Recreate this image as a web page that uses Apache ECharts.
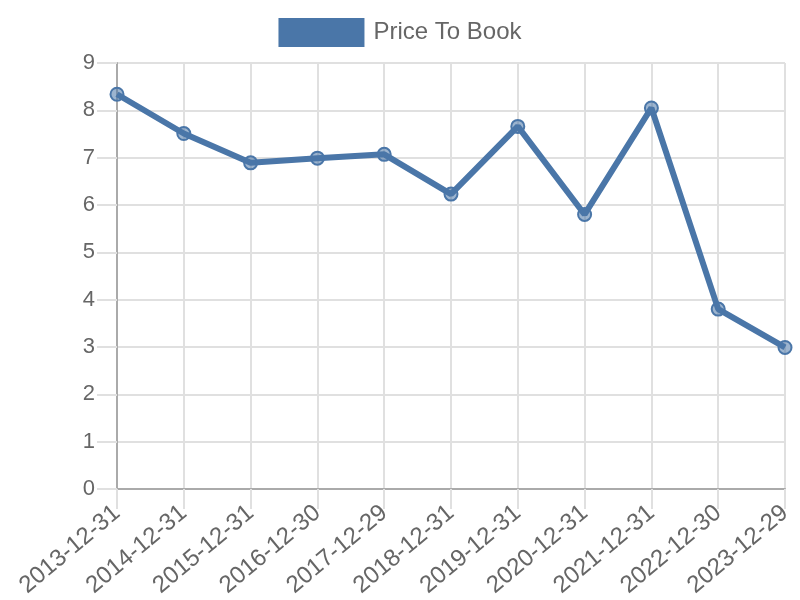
<!DOCTYPE html>
<html><head><meta charset="utf-8">
<script src="https://cdn.jsdelivr.net/npm/echarts@6/dist/echarts.min.js"></script>
<style>html,body{margin:0;padding:0;background:#fff}#c{width:800px;height:600px}</style>
</head><body><div id="c"></div>
<script>
const categories = ["2013-12-31","2014-12-31","2015-12-31","2016-12-30","2017-12-29","2018-12-31","2019-12-31","2020-12-31","2021-12-31","2022-12-30","2023-12-29"];
const priceToBook = [8.34, 7.51, 6.89, 6.99, 7.07, 6.23, 7.66, 5.80, 8.05, 3.80, 2.99];
const seriesName = "Price To Book";
const lineColor = "#4a76a8";
const chart = echarts.init(document.getElementById('c'));
chart.setOption({
  animation: false,
  textStyle: {fontFamily: "Liberation Sans, Arial, sans-serif"},
  legend: {
    top: 13, left: 'center',
    icon: 'rect', itemWidth: 86, itemHeight: 29, itemGap: 10,
    itemStyle: {color: lineColor, borderWidth: 0},
    textStyle: {fontSize: 24, color: '#666', padding: [0, 0, 0, 4], fontFamily: "Liberation Sans, Arial, sans-serif"},
    data: [seriesName]
  },
  grid: {left: 117, right: 15, top: 63, bottom: 110, containLabel: false},
  xAxis: {
    type: 'category', data: categories, boundaryGap: false,
    axisLine: {show: true, lineStyle: {color: '#aaa', width: 2}},
    axisTick: {show: true, length: 20, alignWithLabel: true, lineStyle: {color: '#e0e0e0', width: 2}},
    splitLine: {show: true, lineStyle: {color: '#e0e0e0', width: 2}},
    axisLabel: {rotate: 40, fontSize: 24, color: '#666', margin: 21, interval: 0}
  },
  yAxis: {
    type: 'value', min: 0, max: 9, interval: 1,
    axisLine: {show: true, lineStyle: {color: '#aaa', width: 2}},
    axisTick: {show: true, length: 20, lineStyle: {color: '#e0e0e0', width: 2}},
    splitLine: {show: true, lineStyle: {color: '#e0e0e0', width: 2}},
    axisLabel: {fontSize: 22, color: '#666', margin: 22}
  },
  series: [{
    name: seriesName, type: 'line', data: priceToBook,
    lineStyle: {color: lineColor, width: 6},
    symbol: 'circle', symbolSize: 13,
    itemStyle: {color: 'rgba(74,118,168,0.55)', borderColor: lineColor, borderWidth: 2},
    z: 3
  }]
});
</script></body></html>
